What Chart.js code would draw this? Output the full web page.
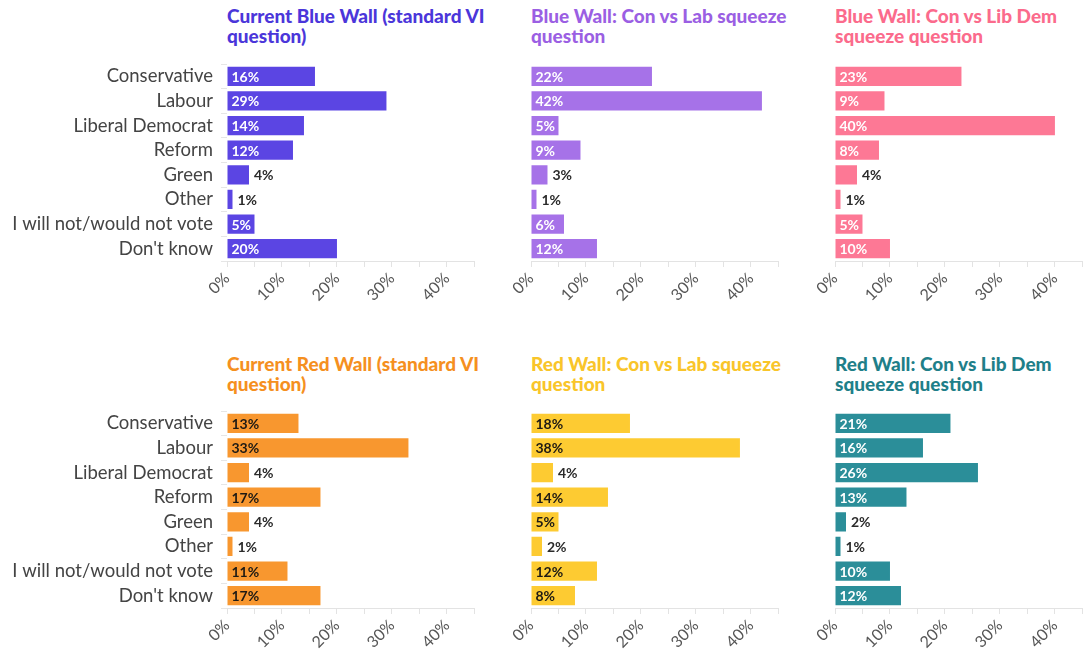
<!DOCTYPE html>
<html>
<head>
<meta charset="utf-8">
<script src="https://cdn.jsdelivr.net/npm/chart.js@4.4.1/dist/chart.umd.min.js"></script>
<style>
  html, body { margin: 0; padding: 0; background: #fff; }
  body { width: 1089px; height: 657px; position: relative; overflow: hidden; font-family: Lato, sans-serif; }
  .panel { position: absolute; }
  .title { position: absolute; font-weight: 900; font-size: 19px; line-height: 20px; width: 290px; white-space: nowrap; }
</style>
</head>
<body>
<script>
// Categories shared by all six panels
const categories = ["Conservative", "Labour", "Liberal Democrat", "Reform", "Green", "Other", "I will not/would not vote", "Don't know"];

// Series values (%)
const blueWallCurrent = [16, 29, 14, 12, 4, 1, 5, 20];
const blueWallConLab = [22, 42, 5, 9, 3, 1, 6, 12];
const blueWallConLibDem = [23, 9, 40, 8, 4, 1, 5, 10];
const redWallCurrent = [13, 33, 4, 17, 4, 1, 11, 17];
const redWallConLab = [18, 38, 4, 14, 5, 2, 12, 8];
const redWallConLibDem = [21, 16, 26, 13, 2, 1, 10, 12];

// Panel titles
const titles = [
  ["Current Blue Wall (standard VI", "question)"],
  ["Blue Wall: Con vs Lab squeeze", "question"],
  ["Blue Wall: Con vs Lib Dem", "squeeze question"],
  ["Current Red Wall (standard VI", "question)"],
  ["Red Wall: Con vs Lab squeeze", "question"],
  ["Red Wall: Con vs Lib Dem", "squeeze question"],
];

// x axis range and tick labels
const xMax = 45;
const xStep = 5;
const xLabelEvery = 10;

const panels = [
  { data: blueWallCurrent, color: "#5b45e3", titleColor: "#4b36da", inner: "#ffffff", col: 0, row: 0 },
  { data: blueWallConLab, color: "#a672e8", titleColor: "#9b5fe3", inner: "#ffffff", col: 1, row: 0 },
  { data: blueWallConLibDem, color: "#fd7895", titleColor: "#fb6b8c", inner: "#ffffff", col: 2, row: 0 },
  { data: redWallCurrent, color: "#f8972f", titleColor: "#f5901f", inner: "#1e1a14", col: 0, row: 1 },
  { data: redWallConLab, color: "#fdcb32", titleColor: "#f9c52a", inner: "#1e1a14", col: 1, row: 1 },
  { data: redWallConLibDem, color: "#2b8e99", titleColor: "#1f7f89", inner: "#ffffff", col: 2, row: 1 },
];

const colLeft = [227, 531, 835];
const rowTop = [64, 411];
const titleTop = [6, 354];
const plotW = 258;
const plotH = 197;
const xAxisH = 60;

// Value labels on bars: inside when they fit, otherwise just past the end
const barLabels = {
  id: "barLabels",
  afterDatasetsDraw(chart, args, opts) {
    const ctx = chart.ctx;
    const meta = chart.getDatasetMeta(0);
    const values = chart.data.datasets[0].data;
    ctx.save();
    ctx.font = "bold 14px Lato, sans-serif";
    ctx.textBaseline = "middle";
    meta.data.forEach((bar, i) => {
      const text = values[i] + "%";
      const w = ctx.measureText(text).width;
      const barW = bar.x - bar.base;
      if (barW > w + 6) {
        ctx.fillStyle = opts.inner;
        ctx.fillText(text, bar.base + 4, bar.y + 1);
      } else {
        ctx.fillStyle = "#2b2b2b";
        ctx.fillText(text, bar.x + 5, bar.y + 1);
      }
    });
    ctx.restore();
  },
};

panels.forEach((p, idx) => {
  const showCats = p.col === 0;
  const padLeft = showCats ? 0 : 40;
  const canvasLeft = showCats ? 0 : colLeft[p.col] - padLeft;
  const canvasW = colLeft[p.col] + plotW + 5 - canvasLeft;
  const canvasH = plotH + xAxisH;

  const title = document.createElement("div");
  title.className = "title";
  title.style.left = colLeft[p.col] + "px";
  title.style.top = titleTop[p.row] + "px";
  title.style.color = p.titleColor;
  title.innerHTML = titles[idx].join("<br>");
  document.body.appendChild(title);

  const wrap = document.createElement("div");
  wrap.className = "panel";
  wrap.style.left = canvasLeft + "px";
  wrap.style.top = rowTop[p.row] + "px";
  wrap.style.width = canvasW + "px";
  wrap.style.height = canvasH + "px";
  const canvas = document.createElement("canvas");
  wrap.appendChild(canvas);
  document.body.appendChild(wrap);

  new Chart(canvas.getContext("2d"), {
    type: "bar",
    data: {
      labels: categories,
      datasets: [
        {
          data: p.data,
          backgroundColor: p.color,
          barPercentage: 0.78,
          categoryPercentage: 1,
        },
      ],
    },
    options: {
      indexAxis: "y",
      responsive: true,
      maintainAspectRatio: false,
      animation: false,
      layout: { autoPadding: false, padding: { left: padLeft, right: 5, top: 0, bottom: 0 } },
      plugins: {
        legend: { display: false },
        tooltip: { enabled: false },
        barLabels: { inner: p.inner },
      },
      scales: {
        x: {
          min: 0,
          max: xMax,
          afterFit: (scale) => { scale.height = xAxisH; },
          grid: { drawOnChartArea: false, tickLength: 6, color: "#e3e3e3" },
          border: { color: "#e3e3e3" },
          ticks: {
            stepSize: xStep,
            autoSkip: false,
            minRotation: 45,
            maxRotation: 45,
            padding: 2,
            color: "#555",
            font: { family: "Lato", size: 16 },
            callback: (v) => (v % xLabelEvery === 0 ? v + "%" : ""),
          },
        },
        y: {
          display: showCats,
          afterFit: (scale) => {
            if (showCats) scale.width = colLeft[0];
            scale.paddingTop = 0;
            scale.paddingBottom = 0;
          },
          grid: { drawOnChartArea: false, tickLength: 6, color: "#e6e6e6" },
          border: { display: false },
          ticks: {
            autoSkip: false,
            padding: 8,
            color: "#444",
            font: { family: "Lato", size: 18.5 },
          },
        },
      },
    },
    plugins: [barLabels],
  });
});
</script>
</body>
</html>
